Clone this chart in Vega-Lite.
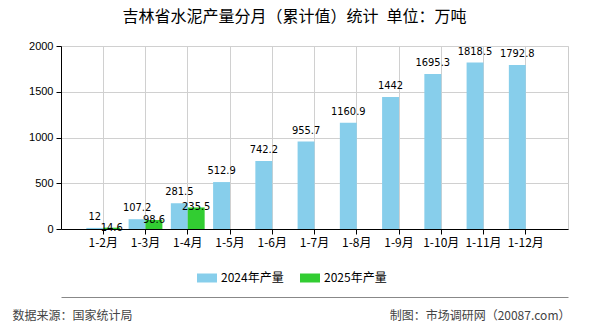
{
  "$schema": "https://vega.github.io/schema/vega-lite/v6.json",
  "width": 507,
  "height": 183,
  "autosize": {"type": "none"},
  "padding": {"left": 61, "top": 46, "right": 22, "bottom": 101},
  "background": "white",
  "config": {"view": {"stroke": "#cccccc"}},
  "title": {
    "text": "吉林省水泥产量分月（累计值）统计\u2002单位：万吨",
    "font": "Noto Sans CJK SC",
    "fontSize": 16,
    "fontWeight": "normal",
    "color": "#000000",
    "anchor": "middle",
    "dx": -20,
    "offset": 15
  },
  "data": {
    "values": [
      {"month": "1-2月", "series": "2024年产量", "value": 12},
      {"month": "1-3月", "series": "2024年产量", "value": 107.2},
      {"month": "1-4月", "series": "2024年产量", "value": 281.5},
      {"month": "1-5月", "series": "2024年产量", "value": 512.9},
      {"month": "1-6月", "series": "2024年产量", "value": 742.2},
      {"month": "1-7月", "series": "2024年产量", "value": 955.7},
      {"month": "1-8月", "series": "2024年产量", "value": 1160.9},
      {"month": "1-9月", "series": "2024年产量", "value": 1442},
      {"month": "1-10月", "series": "2024年产量", "value": 1695.3},
      {"month": "1-11月", "series": "2024年产量", "value": 1818.5},
      {"month": "1-12月", "series": "2024年产量", "value": 1792.8},
      {"month": "1-2月", "series": "2025年产量", "value": 14.6},
      {"month": "1-3月", "series": "2025年产量", "value": 98.6},
      {"month": "1-4月", "series": "2025年产量", "value": 235.5}
    ]
  },
  "encoding": {
    "y": {
      "field": "value",
      "type": "quantitative",
      "scale": {"domain": [0, 2000], "nice": false},
      "axis": {
        "values": [0, 500, 1000, 1500, 2000],
        "format": "d",
        "grid": true,
        "gridColor": "#d0d0d0",
        "domainColor": "#000000",
        "tickColor": "#000000",
        "tickSize": 5,
        "labelFont": "Liberation Sans",
        "labelFontSize": 11,
        "labelColor": "#000000",
        "labelPadding": 3,
        "title": "制图：市场调研网（20087.com）",
        "titleAngle": 0,
        "titleX": 509,
        "titleY": 269,
        "titleAlign": "right",
        "titleBaseline": "middle",
        "titleFont": "Noto Sans CJK SC",
        "titleFontSize": 12,
        "titleFontWeight": "normal",
        "titleColor": "#444444"
      }
    }
  },
  "layer": [
    {
      "mark": {"type": "bar"},
      "encoding": {
        "x": {
          "field": "month",
          "type": "nominal",
          "scale": {
            "domain": ["1-2月", "1-3月", "1-4月", "1-5月", "1-6月", "1-7月", "1-8月", "1-9月", "1-10月", "1-11月", "1-12月"],
            "paddingInner": 0.2,
            "paddingOuter": 0.6
          },
          "axis": {
            "labelAngle": 0,
            "bandPosition": 0.5,
            "grid": true,
            "gridColor": "#d0d0d0",
            "domainColor": "#000000",
            "tickColor": "#000000",
            "tickSize": 5,
            "labelFont": "Noto Sans CJK SC",
            "labelFontSize": 12,
            "labelColor": "#000000",
            "labelPadding": 3,
            "title": "数据来源：国家统计局",
            "titleX": -49,
            "titleY": 86,
            "titleAlign": "left",
            "titleBaseline": "middle",
            "titleFont": "Noto Sans CJK SC",
            "titleFontSize": 12,
            "titleFontWeight": "normal",
            "titleColor": "#444444"
          }
        },
        "xOffset": {
          "field": "series",
          "type": "nominal",
          "scale": {"paddingInner": 0, "paddingOuter": 0}
        },
        "color": {
          "field": "series",
          "type": "nominal",
          "scale": {"domain": ["2024年产量", "2025年产量"], "range": ["#87CEEB", "#32CD32"]},
          "legend": {
            "title": null,
            "orient": "none",
            "legendX": 136,
            "legendY": 222,
            "direction": "horizontal",
            "symbolType": "M-1,-0.45H1V0.45H-1Z",
            "symbolSize": 400,
            "symbolStrokeWidth": 0,
            "labelFont": "Noto Sans CJK SC",
            "labelFontSize": 12,
            "labelColor": "#000000",
            "labelOffset": 4,
            "columnPadding": 16,
            "padding": 0
          }
        }
      }
    },
    {
      "transform": [{"filter": "datum.series === '2024年产量'"}],
      "mark": {
        "type": "text",
        "font": "'DejaVu Sans Condensed', 'DejaVu Sans'",
        "fontSize": 11,
        "baseline": "alphabetic",
        "align": "center",
        "dy": -8,
        "color": "#000000"
      },
      "encoding": {
        "x": {"field": "month", "type": "nominal", "axis": null},
        "xOffset": {"field": "series", "type": "nominal"},
        "text": {"field": "value", "type": "nominal"}
      }
    },
    {
      "transform": [{"filter": "datum.series === '2025年产量'"}],
      "mark": {
        "type": "text",
        "font": "'DejaVu Sans Condensed', 'DejaVu Sans'",
        "fontSize": 11,
        "baseline": "alphabetic",
        "align": "center",
        "dy": 3,
        "color": "#000000"
      },
      "encoding": {
        "x": {
          "field": "month",
          "type": "nominal",
          "axis": {
            "orient": "bottom",
            "offset": 68,
            "domainColor": "#888888",
            "domainWidth": 1,
            "labels": false,
            "ticks": false,
            "grid": false,
            "title": null
          }
        },
        "xOffset": {"field": "series", "type": "nominal"},
        "text": {"field": "value", "type": "nominal"}
      }
    }
  ],
  "resolve": {"axis": {"x": "independent"}}
}
